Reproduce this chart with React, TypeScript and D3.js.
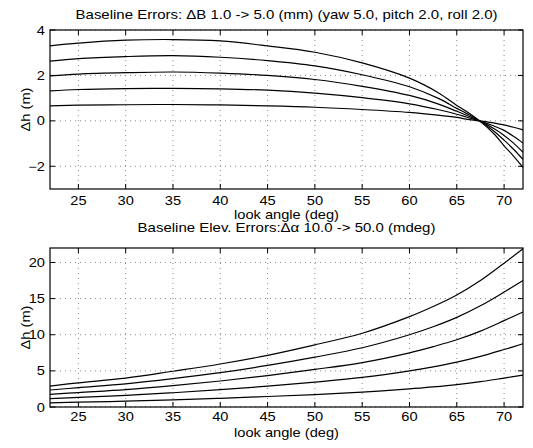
// Baseline error plots (two stacked panels), drawn with d3 through a ref
import * as d3 from "d3";
import React, { useEffect, useRef } from "react";

// top panel: look angle samples and one curve per baseline error 1..5 mm
const topAngles = [22, 25, 30, 35, 40, 45, 50, 55, 60, 63, 65, 66, 67.4, 69, 70, 71, 72];
const topB1 = [0.66, 0.69, 0.71, 0.72, 0.7, 0.66, 0.6, 0.5, 0.37, 0.25, 0.15, 0.08, 0, -0.1, -0.18, -0.28, -0.4];
const topB2 = [1.32, 1.38, 1.42, 1.43, 1.41, 1.35, 1.22, 1.02, 0.75, 0.5, 0.29, 0.17, 0, -0.24, -0.42, -0.68, -0.98];
const topB3 = [1.98, 2.06, 2.12, 2.15, 2.1, 2.0, 1.82, 1.52, 1.12, 0.75, 0.42, 0.25, 0, -0.36, -0.64, -0.98, -1.38];
const topB4 = [2.63, 2.74, 2.83, 2.87, 2.8, 2.65, 2.42, 2.03, 1.5, 1.0, 0.55, 0.33, 0, -0.48, -0.85, -1.25, -1.7];
const topB5 = [3.3, 3.42, 3.55, 3.58, 3.52, 3.3, 3.02, 2.55, 1.88, 1.25, 0.68, 0.42, 0, -0.6, -1.1, -1.55, -2.05];

// bottom panel: elevation angle error 10..50 mdeg
const botAngles = [22, 25, 30, 35, 40, 45, 50, 55, 60, 62.5, 65, 67.5, 70, 72];
const botA10 = [0.58, 0.67, 0.8, 0.98, 1.2, 1.45, 1.72, 2.05, 2.5, 2.78, 3.1, 3.5, 4.0, 4.4];
const botA20 = [1.15, 1.33, 1.6, 1.97, 2.4, 2.88, 3.45, 4.1, 5.0, 5.55, 6.2, 7.0, 7.95, 8.75];
const botA30 = [1.75, 2.0, 2.4, 2.95, 3.6, 4.35, 5.2, 6.15, 7.5, 8.35, 9.3, 10.5, 11.95, 13.15];
const botA40 = [2.35, 2.68, 3.2, 3.92, 4.75, 5.75, 6.9, 8.2, 10.0, 11.1, 12.4, 14.0, 15.9, 17.5];
const botA50 = [2.9, 3.35, 4.0, 4.95, 5.95, 7.15, 8.6, 10.2, 12.5, 13.9, 15.5, 17.5, 19.9, 21.9];

const xTicks = [25, 30, 35, 40, 45, 50, 55, 60, 65, 70];
const topYTicks = [-2, 0, 2, 4];
const botYTicks = [0, 5, 10, 15, 20];

function App() {
  const ref = useRef(null);

  useEffect(() => {
    const svg = d3.select(ref.current);
    svg.selectAll("*").remove();

    const font = "'Liberation Sans', Arial, Helvetica, sans-serif";
    const left = 50;
    const right = 523;
    const stretch = 1.22; // the scanned text is wide

    // text helper, stretched along its own direction
    function label(g, x, y, txt, anchor, size, rot = 0) {
      g.append("text")
        .attr("transform", `translate(${x},${y}) rotate(${rot}) scale(${stretch},1)`)
        .attr("text-anchor", anchor)
        .attr("font-family", font)
        .attr("font-size", size)
        .attr("fill", "#000")
        .text(txt);
    }

    // draws one panel
    function panel(top, bottom, yDomain, yTicks, angles, series, title, titleY, titleSize, tickDy) {
      const x = d3.scaleLinear().domain([22, 72]).range([left, right]);
      const y = d3.scaleLinear().domain(yDomain).range([bottom, top]);
      const g = svg.append("g");

      // dotted grid
      g.selectAll(".gx")
        .data(xTicks)
        .enter()
        .append("line")
        .attr("x1", (d) => x(d))
        .attr("x2", (d) => x(d))
        .attr("y1", top)
        .attr("y2", bottom)
        .attr("stroke", "#888")
        .attr("stroke-width", 1)
        .attr("stroke-dasharray", "1,4");
      g.selectAll(".gy")
        .data(yTicks)
        .enter()
        .append("line")
        .attr("x1", left)
        .attr("x2", right)
        .attr("y1", (d) => y(d))
        .attr("y2", (d) => y(d))
        .attr("stroke", "#888")
        .attr("stroke-width", 1)
        .attr("stroke-dasharray", "1,4");

      // curves
      const line = d3
        .line()
        .x((d) => x(d[0]))
        .y((d) => y(d[1]))
        .curve(d3.curveCatmullRom.alpha(0.5));
      series.forEach((s) => {
        g.append("path")
          .attr("d", line(angles.map((a, i) => [a, s[i]])))
          .attr("fill", "none")
          .attr("stroke", "#000")
          .attr("stroke-width", 1.2);
      });

      // frame
      g.append("rect")
        .attr("x", left)
        .attr("y", top)
        .attr("width", right - left)
        .attr("height", bottom - top)
        .attr("fill", "none")
        .attr("stroke", "#000")
        .attr("stroke-width", 1.2);

      // inward ticks on all sides
      const tl = 5;
      xTicks.forEach((t) => {
        g.append("line").attr("x1", x(t)).attr("x2", x(t)).attr("y1", bottom).attr("y2", bottom - tl).attr("stroke", "#000");
        g.append("line").attr("x1", x(t)).attr("x2", x(t)).attr("y1", top).attr("y2", top + tl).attr("stroke", "#000");
      });
      yTicks.forEach((t) => {
        g.append("line").attr("x1", left).attr("x2", left + tl).attr("y1", y(t)).attr("y2", y(t)).attr("stroke", "#000");
        g.append("line").attr("x1", right).attr("x2", right - tl).attr("y1", y(t)).attr("y2", y(t)).attr("stroke", "#000");
      });

      // tick labels
      xTicks.forEach((t) => label(g, x(t), bottom + tickDy, String(t), "middle", 12));
      yTicks.forEach((t) => label(g, left - 5, y(t) + 4.5, t < 0 ? "\u2212" + Math.abs(t) : String(t), "end", 12));

      // axis labels and title
      label(g, (left + right) / 2, bottom + 30, "look angle (deg)", "middle", 12);
      label(g, 30, (top + bottom) / 2, "\u0394h (m)", "middle", 12, -90);
      label(g, (left + right) / 2, titleY, title, "middle", titleSize);
    }

    panel(30, 189, [-3, 4], topYTicks, topAngles, [topB1, topB2, topB3, topB4, topB5],
      "Baseline Errors: \u0394B 1.0 -> 5.0 (mm) (yaw 5.0, pitch 2.0, roll 2.0)", 19, 12.3, 16);
    panel(248, 407, [0, 22], botYTicks, botAngles, [botA10, botA20, botA30, botA40, botA50],
      "Baseline Elev. Errors:\u0394\u03b1 10.0 -> 50.0 (mdeg)", 232, 12.3, 14);
  }, []);

  return (
    <svg
      ref={ref}
      width={533}
      height={448}
      style={{ position: "absolute", left: 0, top: 0, background: "#fff" }}
    />
  );
}

export default App;
